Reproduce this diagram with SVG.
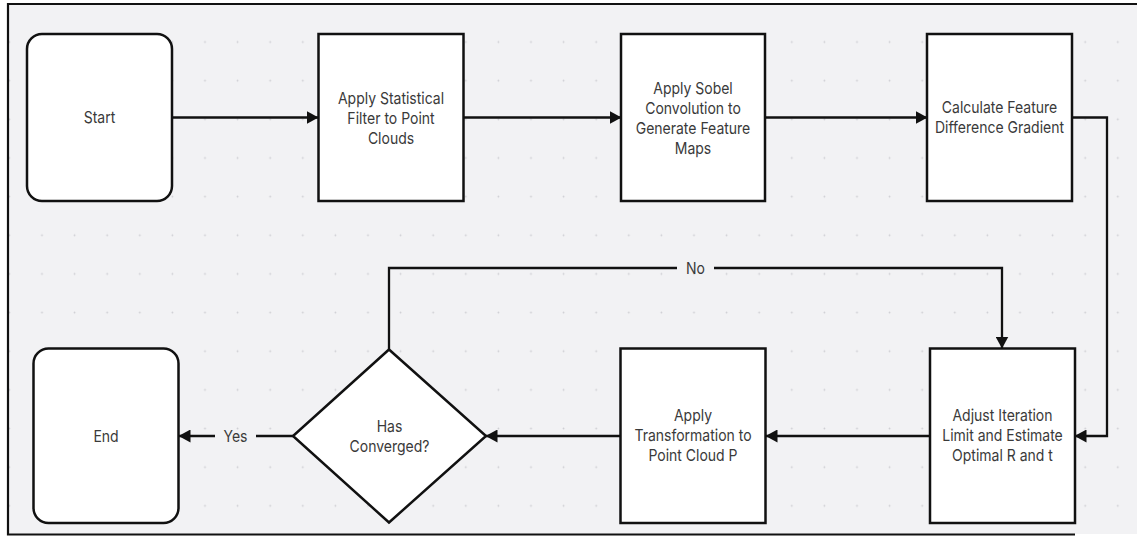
<svg xmlns="http://www.w3.org/2000/svg" width="1137" height="536" viewBox="0 0 1137 536">
  <defs>
    <pattern id="dots" patternUnits="userSpaceOnUse" x="25.7" y="22.7" width="32.6" height="38.65">
      <circle cx="16.3" cy="19.3" r="0.9" fill="#cdcdd2"/>
    </pattern>
    <marker id="arrow" viewBox="0 0 12 13" refX="11.5" refY="6.5" markerWidth="12" markerHeight="13" markerUnits="userSpaceOnUse" orient="auto">
      <path d="M0,0 L12,6.5 L0,13 Z" fill="#111"/>
    </marker>
    <style>
      .box { fill: #ffffff; stroke: #111111; stroke-width: 2.5; }
      .conn { fill: none; stroke: #111111; stroke-width: 2.3; }
      .lbl { font-family: Inter, "Liberation Sans", sans-serif; font-size: 14px; fill: #3a3a3a; text-anchor: middle; dominant-baseline: central; }
    </style>
  </defs>
  <rect x="0" y="0" width="1137" height="536" fill="#ffffff"/>
  <rect x="8" y="4" width="1129" height="530" fill="#f2f2f4"/>
  <rect x="8" y="4" width="1129" height="530" fill="url(#dots)"/>
  <path d="M1137,4 H8 V534.5 H1075" fill="none" stroke="#111" stroke-width="2.2"/>

  <g id="connectors">
    <line class="conn" x1="172" y1="117.5" x2="318" y2="117.5" marker-end="url(#arrow)"/>
    <line class="conn" x1="463" y1="117.5" x2="621" y2="117.5" marker-end="url(#arrow)"/>
    <line class="conn" x1="765" y1="117.5" x2="927" y2="117.5" marker-end="url(#arrow)"/>
    <polyline class="conn" points="1072,117.5 1107,117.5 1107,436 1075,436" marker-end="url(#arrow)"/>
    <line class="conn" x1="930" y1="436" x2="766" y2="436" marker-end="url(#arrow)"/>
    <line class="conn" x1="620" y1="436" x2="486" y2="436" marker-end="url(#arrow)"/>
    <line class="conn" x1="256" y1="436" x2="293" y2="436"/>
    <line class="conn" x1="215" y1="436" x2="179" y2="436" marker-end="url(#arrow)"/>
    <polyline class="conn" points="389,349 389,268 677,268"/>
    <polyline class="conn" points="714,268 1002,268 1002,348" marker-end="url(#arrow)"/>
    <text class="lbl" transform="translate(235.5,436) scale(1,1.18)">Yes</text>
    <text class="lbl" transform="translate(695.5,268) scale(1,1.18)">No</text>
  </g>

  <g id="start">
    <rect class="box" x="27" y="34" width="145" height="167" rx="15" ry="15"/>
    <text class="lbl" transform="translate(99.5,117.5) scale(1,1.18)">Start</text>
  </g>
  <g id="filter">
    <rect class="box" x="318.5" y="34" width="145" height="167"/>
    <text class="lbl" transform="translate(391,98.5) scale(1,1.18)">Apply Statistical</text>
    <text class="lbl" transform="translate(391,118.5) scale(1,1.18)">Filter to Point</text>
    <text class="lbl" transform="translate(391,138.5) scale(1,1.18)">Clouds</text>
  </g>
  <g id="sobel">
    <rect class="box" x="621" y="34" width="144" height="167"/>
    <text class="lbl" transform="translate(693,88) scale(1,1.18)">Apply Sobel</text>
    <text class="lbl" transform="translate(693,108) scale(1,1.18)">Convolution to</text>
    <text class="lbl" transform="translate(693,128) scale(1,1.18)">Generate Feature</text>
    <text class="lbl" transform="translate(693,148) scale(1,1.18)">Maps</text>
  </g>
  <g id="gradient">
    <rect class="box" x="927" y="34" width="145" height="167"/>
    <text class="lbl" transform="translate(999.5,107.5) scale(1,1.18)">Calculate Feature</text>
    <text class="lbl" transform="translate(999.5,127.5) scale(1,1.18)">Difference Gradient</text>
  </g>
  <g id="adjust">
    <rect class="box" x="930" y="348.5" width="145" height="174.5"/>
    <text class="lbl" transform="translate(1002.5,415.5) scale(1,1.18)">Adjust Iteration</text>
    <text class="lbl" transform="translate(1002.5,435.5) scale(1,1.18)">Limit and Estimate</text>
    <text class="lbl" transform="translate(1002.5,455.5) scale(1,1.18)">Optimal R and t</text>
  </g>
  <g id="transform">
    <rect class="box" x="620.5" y="348.5" width="145" height="174.5"/>
    <text class="lbl" transform="translate(693,415.5) scale(1,1.18)">Apply</text>
    <text class="lbl" transform="translate(693,435.5) scale(1,1.18)">Transformation to</text>
    <text class="lbl" transform="translate(693,455.5) scale(1,1.18)">Point Cloud P</text>
  </g>
  <g id="converged">
    <polygon class="box" points="389,349.5 486,436 389,522.5 293,436"/>
    <text class="lbl" transform="translate(389.5,426.5) scale(1,1.18)">Has</text>
    <text class="lbl" transform="translate(389.5,446.5) scale(1,1.18)">Converged?</text>
  </g>
  <g id="end">
    <rect class="box" x="33.5" y="348.5" width="145" height="174.5" rx="15" ry="15"/>
    <text class="lbl" transform="translate(106,436) scale(1,1.18)">End</text>
  </g>
</svg>
